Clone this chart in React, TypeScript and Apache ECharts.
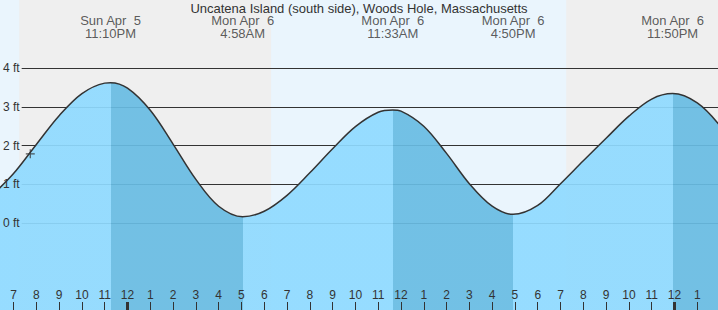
import React, { useEffect, useRef } from "react";
import * as echarts from "echarts";

// Hours since Sun Apr 5 00:00 local time
const tideTimes = [
  18, 19, 20, 21, 22, 23, 23.255, 24, 25, 26, 27, 28, 29.055, 30, 31, 32, 33, 34,
  35, 35.64, 36, 37, 38, 39, 40, 40.92, 42, 43, 44, 45, 46, 47, 47.92, 49, 50,
];
const tideFeet = [
  0.69, 1.28, 2.03, 2.77, 3.34, 3.61, 3.62, 3.48, 2.91, 2.04, 1.13, 0.44, 0.17, 0.31, 0.72, 1.3, 1.92, 2.49,
  2.86, 2.92, 2.89, 2.5, 1.8, 1.02, 0.44, 0.23, 0.46, 1.02, 1.61, 2.19, 2.76, 3.2, 3.34, 3.1, 2.51,
];

const extremaTimes = [23.255, 29.055, 35.64, 40.92, 47.92];
const extremaKinds = ["high", "low", "high", "low", "high"];
const extremaLabels = [
  "Sun Apr  5\n11:10PM",
  "Mon Apr  6\n4:58AM",
  "Mon Apr  6\n11:33AM",
  "Mon Apr  6\n4:50PM",
  "Mon Apr  6\n11:50PM",
];

const nightStarts = [19.25, 43.25];
const nightEnds = [30.3, 49.91];

const hourTicks = [
  19, 20, 21, 22, 23, 24, 25, 26, 27, 28, 29, 30, 31, 32, 33, 34, 35, 36, 37, 38, 39, 40, 41, 42, 43, 44, 45,
  46, 47, 48, 49,
];
const midnightTicks = [24, 48];

const nowTime = 19.735;
const nowFeet = 1.79;

const TITLE = "Uncatena Island (south side), Woods Hole, Massachusetts";

const FONT = "'Liberation Sans', Arial, sans-serif";
const TEXT = "#333";
const LIGHT = "#8fdaff";
const DARK = "#68bce3";

export default function App() {
  const ref = useRef<HTMLDivElement>(null);

  useEffect(() => {
    if (!ref.current) return;
    const chart = echarts.init(ref.current, undefined, { renderer: "svg" });

    const xMin = 18.406;
    const xMax = 49.91;
    const yMin = -2.233;
    const yMax = 5.751;
    const labelFeet = 5.068;

    const pieces: any[] = [];
    let prev: number | null = null;
    extremaTimes.forEach((t, i) => {
      const falling = i > 0 && extremaKinds[i - 1] === "high";
      const piece: any = { lt: t, color: falling ? DARK : LIGHT };
      if (prev !== null) piece.gte = prev;
      pieces.push(piece);
      prev = t;
    });
    pieces.push({ gte: prev, color: extremaKinds[extremaKinds.length - 1] === "high" ? DARK : LIGHT });

    const hourName = (v: number) => String(((Math.round(v) + 11) % 12) + 1);

    chart.setOption({
      animation: false,
      backgroundColor: "#eaf5fd",
      textStyle: { fontFamily: FONT },
      title: {
        text: TITLE,
        left: "center",
        top: 0,
        padding: [2.5, 0, 0, 0],
        textStyle: { fontSize: 13, lineHeight: 11, fontWeight: "normal", color: TEXT, fontFamily: FONT },
      },
      grid: [
        { left: 0, right: 0, top: 0, bottom: 0 },
        { left: 21, right: 0, top: 68, bottom: 86.7 },
      ],
      xAxis: [
        {
          type: "value",
          gridIndex: 0,
          position: "bottom",
          min: xMin,
          max: xMax,
          z: 6,
          axisLine: { show: false, onZero: false },
          splitLine: { show: false },
          axisTick: {
            show: true,
            inside: true,
            length: 8,
            customValues: hourTicks,
            lineStyle: { color: TEXT, width: 1 },
          },
          axisLabel: {
            show: true,
            inside: true,
            margin: 9,
            customValues: hourTicks,
            formatter: hourName,
            fontSize: 12,
            color: TEXT,
            fontFamily: FONT,
          },
        },
        {
          type: "value",
          gridIndex: 0,
          position: "bottom",
          offset: 0,
          min: xMin,
          max: xMax,
          z: 7,
          axisLine: { show: false, onZero: false },
          splitLine: { show: false },
          axisTick: {
            show: true,
            inside: true,
            length: 8,
            customValues: midnightTicks,
            lineStyle: { color: TEXT, width: 3 },
          },
          axisLabel: { show: false },
        },
        {
          type: "value",
          gridIndex: 1,
          min: xMin,
          max: xMax,
          show: false,
        },
      ],
      yAxis: [
        { type: "value", gridIndex: 0, min: yMin, max: yMax, show: false },
        {
          type: "value",
          gridIndex: 1,
          position: "left",
          min: 0,
          max: 4,
          interval: 1,
          z: 2,
          axisLine: { show: false, onZero: false },
          axisTick: { show: false },
          axisLabel: { show: false },
          splitLine: { show: true, lineStyle: { color: TEXT, width: 1 } },
        },
        {
          type: "value",
          gridIndex: 1,
          position: "left",
          offset: 0,
          min: 0,
          max: 4,
          interval: 1,
          z: 6,
          axisLine: { show: false, onZero: false },
          axisTick: { show: false },
          splitLine: { show: false },
          axisLabel: {
            show: true,
            margin: 2,
            formatter: "{value} ft",
            fontSize: 12,
            color: TEXT,
            fontFamily: FONT,
          },
        },
      ],
      visualMap: {
        show: false,
        type: "piecewise",
        dimension: 0,
        seriesIndex: 0,
        pieces,
      },
      series: [
        {
          name: "tide",
          type: "line",
          xAxisIndex: 0,
          yAxisIndex: 0,
          z: 3,
          data: tideTimes.map((t, i) => [t, tideFeet[i]]),
          smooth: 0.35,
          showSymbol: false,
          symbol: "none",
          lineStyle: { color: "#333", width: 1.5 },
          areaStyle: { origin: "start", opacity: 0.92 },
        },
        {
          name: "night",
          type: "line",
          xAxisIndex: 0,
          yAxisIndex: 0,
          z: 1,
          data: [],
          markArea: {
            silent: true,
            z: 1,
            itemStyle: { color: "#efefef" },
            data: nightStarts.map((s, i) => [{ xAxis: s }, { xAxis: nightEnds[i] }]),
          },
        },
        {
          name: "extrema",
          type: "scatter",
          xAxisIndex: 0,
          yAxisIndex: 0,
          z: 6,
          symbol: "circle",
          symbolSize: 1,
          itemStyle: { color: "rgba(0,0,0,0)" },
          data: extremaTimes.map((t, i) => ({ value: [t, labelFeet], name: extremaLabels[i] })),
          label: {
            show: true,
            position: "inside",
            formatter: (p: any) => p.name,
            fontSize: 13,
            lineHeight: 13,
            color: TEXT,
            fontFamily: FONT,
          },
        },
        {
          name: "now",
          type: "scatter",
          xAxisIndex: 0,
          yAxisIndex: 0,
          z: 7,
          symbol: "path://M0,5L10,5M5,0L5,10",
          symbolSize: 9,
          itemStyle: { color: "none", borderColor: "#333", borderWidth: 1.2 },
          data: [[nowTime, nowFeet]],
        },
      ],
    });

    return () => chart.dispose();
  }, []);

  return (
    <div
      ref={ref}
      style={{ position: "fixed", left: 0, top: 0, width: 718, height: 310 }}
    />
  );
}
